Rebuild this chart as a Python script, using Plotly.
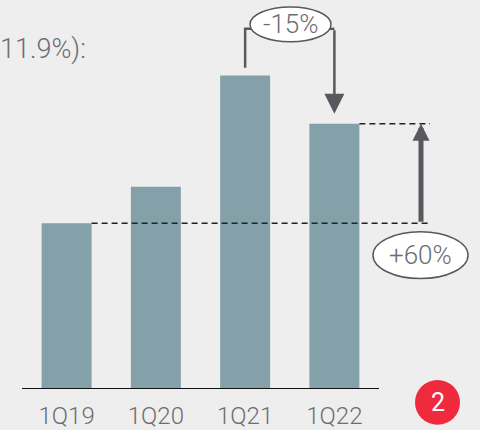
import plotly.graph_objects as go

quarters = ["1Q19", "1Q20", "1Q21", "1Q22"]
values = [100, 122, 189, 160]
label_drop = "-15%"
label_rise = "+60%"
header_text = "11.9%):"
badge_text = "2"

W, H = 480, 430
BOTTOM = 39
PX_X = 89.25                 # px per category step
PX_Y = 315 / 189             # px per value unit
plot_h = H - BOTTOM
x_lo = -0.5 - 22 / PX_X
x_hi = 3.5 + 101 / PX_X
y_hi = plot_h / PX_Y

def dx(px):
    return (px - 22) / PX_X - 0.5

def dy(px):
    return (plot_h - px) / PX_Y

BAR = "#84a0a8"
BG = "#eeeeee"
TXT = "#6d6d72"
ARR = "#58585e"
FONT = "Roboto"

fig = go.Figure(go.Bar(x=list(range(len(quarters))), y=values, width=0.56,
                       marker=dict(color=BAR, line=dict(width=0)),
                       hoverinfo="skip"))

shapes = []
shapes.append(dict(type="line", xref="x", yref="y", x0=-0.5, x1=3.5, y0=0, y1=0,
                   line=dict(color="#111111", width=2)))
shapes.append(dict(type="line", xref="x", yref="y", x0=0.28, x1=dx(430), y0=values[0], y1=values[0],
                   line=dict(color="#222222", width=1.5, dash="6px,4px")))
shapes.append(dict(type="line", xref="x", yref="y", x0=3.28, x1=dx(430), y0=values[3], y1=values[3],
                   line=dict(color="#222222", width=1.5, dash="6px,4px")))
top_y = dy(29)
shapes.append(dict(type="path", xref="x", yref="y",
                   path=f"M 2,{values[2] + 8 / PX_Y} L 2,{top_y} L {dx(252)},{top_y}",
                   line=dict(color=ARR, width=2.5)))
shapes.append(dict(type="line", xref="x", yref="y", x0=dx(329), x1=3, y0=top_y, y1=top_y,
                   line=dict(color=ARR, width=2.5)))
shapes.append(dict(type="circle", xref="x", yref="y", x0=dx(250), x1=dx(331), y0=dy(42), y1=dy(7),
                   fillcolor="white", line=dict(color=ARR, width=1.5), layer="above"))
shapes.append(dict(type="circle", xref="x", yref="y", x0=dx(373), x1=dx(468), y0=dy(280), y1=dy(233),
                   fillcolor="white", line=dict(color=ARR, width=1.5), layer="above"))
shapes.append(dict(type="circle", xref="paper", yref="paper",
                   x0=415 / W, x1=460 / W, y0=(plot_h - 427) / plot_h, y1=(plot_h - 382) / plot_h,
                   fillcolor="#ee2a3c", line=dict(width=0)))

annotations = [
    dict(x=3, y=values[3] + 10 / PX_Y, ax=3, ay=top_y, xref="x", yref="y", axref="x", ayref="y",
         text="", showarrow=True, arrowhead=2, arrowsize=1.6, arrowwidth=2.5, arrowcolor=ARR, standoff=0),
    dict(x=dx(421), y=values[3], ax=dx(421), ay=values[0], xref="x", yref="y", axref="x", ayref="y",
         text="", showarrow=True, arrowhead=2, arrowsize=0.68, arrowwidth=5, arrowcolor=ARR, standoff=0),
    dict(x=(dx(250) + dx(331)) / 2, y=(dy(42) + dy(7)) / 2, xref="x", yref="y", text=label_drop,
         xanchor="center", yanchor="middle",
         showarrow=False, font=dict(family=FONT, size=26, color=TXT, weight=300)),
    dict(x=(dx(373) + dx(468)) / 2, y=(dy(280) + dy(233)) / 2, xref="x", yref="y", text=label_rise,
         xanchor="center", yanchor="middle",
         showarrow=False, font=dict(family=FONT, size=26, color=TXT, weight=300)),
    dict(x=0, y=(plot_h - 49) / plot_h, xref="paper", yref="paper", xanchor="left", yanchor="middle",
         xshift=-2,
         text=header_text, showarrow=False, font=dict(family=FONT, size=27, color=TXT, weight=300)),
    dict(x=437.5 / W, y=(plot_h - 405) / plot_h, xref="paper", yref="paper", text=badge_text,
         xanchor="center", yanchor="middle",
         showarrow=False, font=dict(family=FONT, size=25, color="white", weight=400)),
]

fig.update_layout(
    width=W, height=H, margin=dict(l=0, r=0, t=0, b=BOTTOM),
    paper_bgcolor=BG, plot_bgcolor=BG, showlegend=False,
    shapes=shapes, annotations=annotations,
    xaxis=dict(range=[x_lo, x_hi], tickmode="array", tickvals=list(range(len(quarters))),
               ticktext=quarters, showgrid=False, zeroline=False, showline=False, ticks="",
               ticklabelstandoff=10,
               tickfont=dict(family=FONT, size=24, color=TXT, weight=300), fixedrange=True),
    yaxis=dict(range=[0, y_hi], visible=False, fixedrange=True),
)

fig.write_html("out.html", config={"displayModeBar": False})
